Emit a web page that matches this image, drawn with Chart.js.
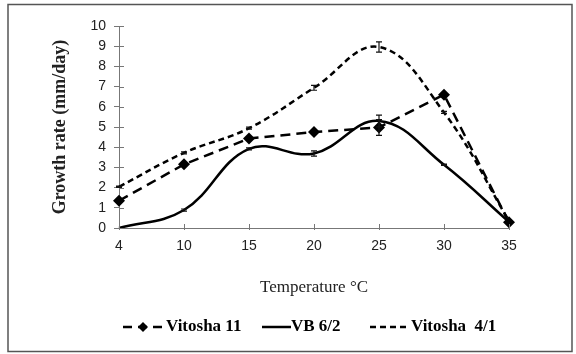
<!DOCTYPE html>
<html>
<head>
<meta charset="utf-8">
<script src="https://cdn.jsdelivr.net/npm/chart.js@4"></script>
<style>
  html, body { margin: 0; padding: 0; background: #fff; }
  #wrap { width: 576px; height: 354px; }
</style>
</head>
<body>
<div id="wrap"><canvas id="growthChart" width="576" height="354"></canvas></div>
<script>
// Temperatures (x categories)
const temps = ['4', '10', '15', '20', '25', '30', '35'];
const yTicks = [0, 1, 2, 3, 4, 5, 6, 7, 8, 9, 10];

// Growth rate (mm/day)
const vitosha11 = [1.35, 3.15, 4.43, 4.75, 4.98, 6.6, 0.28];
const vb62 = [0, 0.89, 3.92, 3.69, 5.3, 3.13, 0.3];
const vitosha41 = [2.04, 3.72, 4.94, 6.94, 8.96, 5.72, 0.35];

// Error bars
const vitosha11Err = [0, 0, 0, 0, 0.39, 0, 0];
const vb62Err = [0, 0.05, 0.05, 0.13, 0.29, 0.03, 0];
const vitosha41Err = [0.03, 0.05, 0.05, 0.12, 0.25, 0.05, 0];

const serif = "'Liberation Serif', 'Times New Roman', serif";
const sans = "'Liberation Sans', Arial, sans-serif";

// error bars + crossing ticks + frame + legend
const extras = {
    id: 'extras',
    afterDatasetsDraw(chart) {
        const ctx = chart.ctx;
        const y = chart.scales.y;
        const x = chart.scales.x;
        ctx.save();
        ctx.strokeStyle = '#111';
        ctx.lineWidth = 1.2;
        ctx.setLineDash([]);
        chart.data.datasets.forEach((ds, di) => {
            const meta = chart.getDatasetMeta(di);
            (ds.errors || []).forEach((e, i) => {
                if (!e) return;
                const px = meta.data[i].x;
                const top = y.getPixelForValue(ds.data[i] + e);
                const bot = y.getPixelForValue(ds.data[i] - e);
                ctx.beginPath();
                ctx.moveTo(px, top); ctx.lineTo(px, bot);
                ctx.moveTo(px - 3, top); ctx.lineTo(px + 3, top);
                ctx.moveTo(px - 3, bot); ctx.lineTo(px + 3, bot);
                ctx.stroke();
            });
        });
        ctx.strokeStyle = '#777';
        ctx.lineWidth = 1;
        // x ticks crossing the axis
        temps.forEach((t, i) => {
            const px = Math.round(x.getPixelForValue(i)) + 0.5;
            ctx.beginPath();
            ctx.moveTo(px, y.bottom + 2); ctx.lineTo(px, y.bottom - 4);
            ctx.stroke();
        });
        // inner half of y ticks
        yTicks.forEach((v) => {
            const py = Math.round(y.getPixelForValue(v)) + 0.5;
            ctx.beginPath();
            ctx.moveTo(x.left, py); ctx.lineTo(x.left + 5, py);
            ctx.stroke();
        });
        ctx.restore();
    },
    afterDraw(chart) {
        const ctx = chart.ctx;
        ctx.save();
        // frame
        ctx.strokeStyle = '#555';
        ctx.lineWidth = 1.5;
        ctx.strokeRect(8, 4.5, 564, 347);

        // legend
        const ly = 327;
        ctx.strokeStyle = '#000';
        ctx.fillStyle = '#000';
        ctx.lineWidth = 2.5;
        ctx.font = 'bold 17px ' + serif;
        ctx.textBaseline = 'middle';

        ctx.setLineDash([9, 6]);
        ctx.beginPath(); ctx.moveTo(123, ly); ctx.lineTo(162, ly); ctx.stroke();
        ctx.setLineDash([]);
        ctx.beginPath();
        ctx.moveTo(143, ly - 5); ctx.lineTo(148, ly); ctx.lineTo(143, ly + 5); ctx.lineTo(138, ly);
        ctx.closePath(); ctx.fill();
        ctx.fillText('Vitosha 11', 166, ly);

        ctx.beginPath(); ctx.moveTo(262, ly); ctx.lineTo(291, ly); ctx.stroke();
        ctx.fillText('VB 6/2', 291, ly);

        ctx.setLineDash([6, 4]);
        ctx.beginPath(); ctx.moveTo(370, ly); ctx.lineTo(410, ly); ctx.stroke();
        ctx.setLineDash([]);
        ctx.fillText('Vitosha  4/1', 411, ly);
        ctx.restore();
    }
};

const growthCtx = document.getElementById('growthChart').getContext('2d');
new Chart(growthCtx, {
    type: 'line',
    data: {
        labels: temps,
        datasets: [
            {
                label: 'Vitosha 11',
                data: vitosha11,
                errors: vitosha11Err,
                borderColor: '#000',
                backgroundColor: '#000',
                borderWidth: 2.5,
                borderDash: [10, 6],
                tension: 0,
                pointStyle: 'rectRot',
                pointRadius: 6,
                pointBorderWidth: 0,
                clip: false
            },
            {
                label: 'VB 6/2',
                data: vb62,
                errors: vb62Err,
                borderColor: '#000',
                borderWidth: 2.5,
                tension: 0.4,
                pointRadius: 0,
                clip: false
            },
            {
                label: 'Vitosha  4/1',
                data: vitosha41,
                errors: vitosha41Err,
                borderColor: '#000',
                borderWidth: 2.5,
                borderDash: [6, 4],
                tension: 0.4,
                pointRadius: 0,
                clip: false
            }
        ]
    },
    options: {
        responsive: false,
        animation: false,
        layout: { padding: { left: 44, right: 67, top: 26, bottom: 56 } },
        plugins: {
            legend: { display: false },
            tooltip: { enabled: false }
        },
        scales: {
            x: {
                offset: false,
                afterFit: (s) => { s.height = 70; },
                grid: { display: false, drawTicks: false },
                border: { display: true, color: '#777', width: 1 },
                ticks: { padding: 10, color: '#222', font: { family: sans, size: 14 } },
                title: {
                    display: true,
                    text: 'Temperature °C',
                    color: '#222',
                    font: { family: serif, size: 17 },
                    padding: { top: 0, bottom: 0 }
                }
            },
            y: {
                min: 0,
                max: 10,
                afterFit: (s) => { s.width = 75; },
                afterBuildTicks: (s) => { s.ticks = yTicks.map(v => ({ value: v })); },
                grid: { drawOnChartArea: false, drawTicks: true, tickLength: 5, color: '#777' },
                border: { display: true, color: '#777', width: 1 },
                ticks: { padding: 8, color: '#222', font: { family: sans, size: 14 } },
                title: {
                    display: true,
                    text: 'Growth rate (mm/day)',
                    color: '#222',
                    font: { family: serif, size: 18, weight: 'bold' },
                    padding: { top: 6, bottom: 0 }
                }
            }
        }
    },
    plugins: [extras]
});
</script>
</body>
</html>
